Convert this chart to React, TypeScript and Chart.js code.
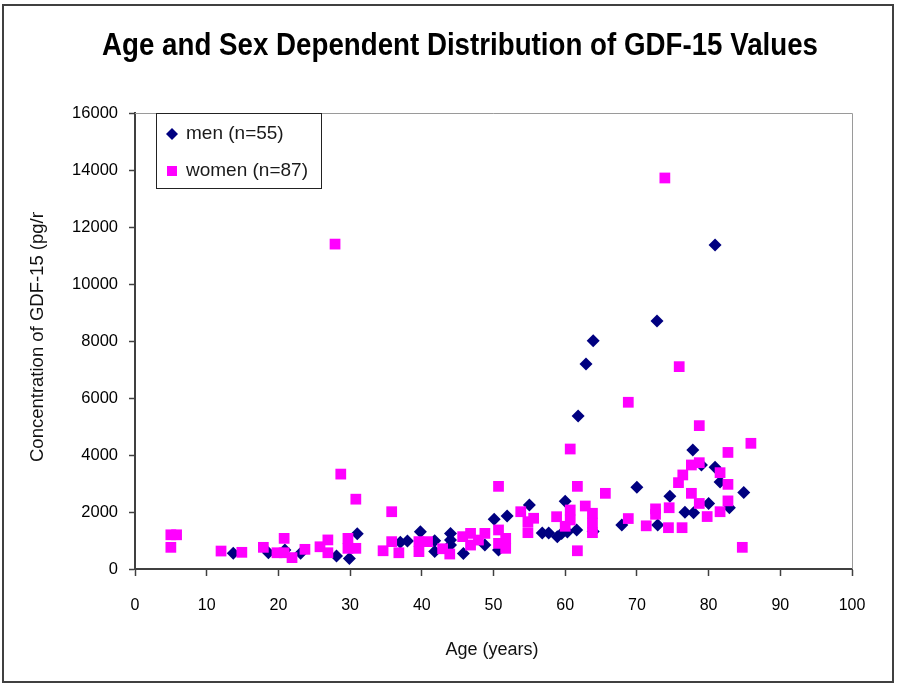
import React, { useEffect, useRef } from "react";
import { Chart, registerables } from "chart.js";

Chart.register(...registerables);

const TITLE = "Age and Sex Dependent Distribution of GDF-15 Values";
const X_TITLE = "Age (years)";
const Y_TITLE = "Concentration of GDF-15 (pg/ml)";
const LEGEND_LABELS = ["men (n=55)", "women (n=87)"];
const X_MIN = 0;
const X_MAX = 100;
const X_STEP = 10;
const Y_MIN = 0;
const Y_MAX = 16000;
const Y_STEP = 2000;

const MEN_AGE = [
  13.7, 18.6, 20.9, 23.1, 28.1, 29.9, 31, 37, 38, 39.8, 41.8, 41.8, 44, 44, 44, 45.8,
  48.8, 50.7, 50.1, 51.9, 55, 56.8, 57.7, 58.9, 60, 59.5, 60.3, 61.6, 63.9, 61.8, 62.9,
  63.9, 67.9, 70, 72.8, 72.9, 74.6, 76.7, 77.9, 77.8, 79, 80, 80.9, 80.9, 81.6, 82.9, 84.9,
];
const MEN_GDF = [
  550, 570, 670, 550, 460, 370, 1240, 935, 980, 1310, 990, 610, 1250, 1015, 840, 540,
  840, 670, 1745, 1860, 2245, 1260, 1260, 1135, 2380, 1250, 1300, 1370, 1320, 5370, 7190,
  8010, 1545, 2865, 8700, 1545, 2550, 1990, 1975, 4175, 3650, 2300, 3570, 11370, 3050, 2150, 2680,
];

const WOMEN_AGE = [
  5, 5.8, 5, 12, 14.9, 17.9, 20.8, 19.8, 20.8, 21.9, 23.7, 25.8, 26.9, 26.9, 27.9, 28.7,
  29.7, 29.7, 30.8, 30.8, 34.6, 35.8, 35.8, 36.8, 39.6, 39.6, 40.8, 42.9, 43.9, 45.7,
  46.8, 46.8, 47.9, 48.8, 50.7, 50.7, 50.7, 51.7, 51.7, 53.8, 54.8, 54.8, 55.6, 58.8,
  60.7, 60.7, 60, 60.7, 61.7, 61.7, 62.8, 63.8, 63.8, 63.8, 65.6, 68.8, 68.8, 71.3,
  72.6, 72.6, 73.9, 74.5, 74.4, 75.8, 75.9, 76.4, 76.3, 77.6, 77.6, 78.7, 78.7, 78.7,
  79.8, 81.6, 81.6, 82.7, 82.7, 82.7, 84.7, 85.9,
];
const WOMEN_GDF = [
  1200, 1200, 760, 630, 585, 760, 1075, 570, 570, 400, 690, 780, 1020, 570, 11400, 3330,
  1075, 725, 725, 2450, 640, 960, 2010, 570, 960, 610, 960, 710, 525, 1135,
  1250, 840, 1015, 1250, 1370, 900, 2900, 1075, 725, 2010, 1660, 1275, 1780, 1835,
  2070, 1720, 1500, 4210, 2900, 640, 2210, 1955, 1610, 1275, 2655, 1770, 5850, 1515,
  2110, 1920, 13720, 2150, 1450, 3030, 7100, 3300, 1450, 3650, 2655, 3730, 2300, 5030,
  1840, 3380, 2010, 4090, 2970, 2390, 760, 4410,
];

const MEN_COLOR = "#000080";
const WOMEN_COLOR = "#FF00FF";
const FONT = "'Liberation Sans', Arial, sans-serif";

const toPoints = (xs: number[], ys: number[]) => xs.map((x, i) => ({ x, y: ys[i] }));

const decorPlugin = {
  id: "decor",
  beforeDraw(chart: any) {
    const ctx = chart.ctx;
    ctx.save();
    ctx.fillStyle = "#ffffff";
    ctx.fillRect(0, 0, chart.width, chart.height);
    ctx.restore();
  },
  afterDraw(chart: any) {
    const ctx = chart.ctx;
    const area = chart.chartArea;
    ctx.save();
    // outer frame
    ctx.strokeStyle = "#404040";
    ctx.lineWidth = 2;
    ctx.strokeRect(3, 5, chart.width - 8, chart.height - 9);

    // plot area top/right border
    ctx.strokeStyle = "#9a9a9a";
    ctx.lineWidth = 1;
    ctx.beginPath();
    ctx.moveTo(area.left, area.top + 0.5);
    ctx.lineTo(area.right + 0.5, area.top + 0.5);
    ctx.lineTo(area.right + 0.5, area.bottom);
    ctx.stroke();

    // title
    ctx.fillStyle = "#000";
    ctx.font = `bold 31px ${FONT}`;
    const w = ctx.measureText(TITLE).width;
    const sx = 716 / w;
    ctx.save();
    ctx.translate(460, 55);
    ctx.scale(sx, 1);
    ctx.textAlign = "center";
    ctx.textBaseline = "alphabetic";
    ctx.fillText(TITLE, 0, 0);
    ctx.restore();

    // x title
    ctx.fillStyle = "#111";
    ctx.font = `18px ${FONT}`;
    ctx.textAlign = "center";
    ctx.textBaseline = "middle";
    ctx.fillText(X_TITLE, 492, 650);

    // y title (clipped as in the original)
    ctx.save();
    ctx.beginPath();
    ctx.rect(0, 212, 90, 300);
    ctx.clip();
    ctx.translate(38, 462);
    ctx.rotate(-Math.PI / 2);
    ctx.textAlign = "left";
    ctx.textBaseline = "middle";
    ctx.font = `18.5px ${FONT}`;
    ctx.fillText(Y_TITLE, 0, 0);
    ctx.restore();

    // legend
    const lx = 156.5, ly = area.top + 0.5, lw = 165, lh = 75;
    ctx.fillStyle = "#fff";
    ctx.fillRect(lx, ly, lw, lh);
    ctx.strokeStyle = "#222";
    ctx.lineWidth = 1;
    ctx.strokeRect(lx, ly, lw, lh);
    // diamond
    ctx.fillStyle = MEN_COLOR;
    ctx.beginPath();
    ctx.moveTo(172, 128);
    ctx.lineTo(178, 134);
    ctx.lineTo(172, 140);
    ctx.lineTo(166, 134);
    ctx.closePath();
    ctx.fill();
    // square
    ctx.fillStyle = WOMEN_COLOR;
    ctx.fillRect(167, 166, 10, 10);
    ctx.fillStyle = "#1a1a1a";
    ctx.font = `19px ${FONT}`;
    ctx.textAlign = "left";
    ctx.textBaseline = "middle";
    ctx.fillText(LEGEND_LABELS[0], 186, 134);
    ctx.fillText(LEGEND_LABELS[1], 186, 171);
    ctx.restore();
  },
};

export default function App() {
  const canvasRef = useRef<HTMLCanvasElement | null>(null);

  useEffect(() => {
    const canvas = canvasRef.current;
    if (!canvas) return;
    const chart = new Chart(canvas, {
      type: "scatter",
      data: {
        datasets: [
          {
            label: LEGEND_LABELS[1],
            data: toPoints(WOMEN_AGE, WOMEN_GDF),
            pointStyle: "rect",
            pointRadius: 7.6,
            backgroundColor: WOMEN_COLOR,
            borderColor: WOMEN_COLOR,
            borderWidth: 0,
            order: 0,
          },
          {
            label: LEGEND_LABELS[0],
            data: toPoints(MEN_AGE, MEN_GDF),
            pointStyle: "rectRot",
            pointRadius: 6.5,
            backgroundColor: MEN_COLOR,
            borderColor: MEN_COLOR,
            borderWidth: 0,
            order: 1,
          },
        ],
      },
      options: {
        responsive: false,
        animation: false,
        devicePixelRatio: 1,
        layout: { padding: { left: 0, top: 113, right: 46, bottom: 0 } },
        plugins: {
          legend: { display: false },
          tooltip: { enabled: false },
          title: { display: false },
        },
        scales: {
          x: {
            type: "linear",
            min: X_MIN,
            max: X_MAX,
            afterFit: (s: any) => {
              s.height = 117;
            },
            ticks: {
              stepSize: X_STEP,
              color: "#000",
              font: { family: FONT, size: 16 },
              padding: 20,
              maxRotation: 0,
              autoSkip: false,
              callback: (v: any) => String(v),
            },
            grid: {
              display: true,
              drawOnChartArea: false,
              drawTicks: true,
              tickLength: 7,
              tickColor: "#404040",
              tickWidth: 1.5,
            },
            border: { display: true, color: "#404040", width: 2 },
          },
          y: {
            type: "linear",
            min: Y_MIN,
            max: Y_MAX,
            afterFit: (s: any) => {
              s.width = 135;
            },
            ticks: {
              stepSize: Y_STEP,
              color: "#000",
              font: { family: FONT, size: 16.5 },
              padding: 11,
              autoSkip: false,
              callback: (v: any) => String(v),
            },
            grid: {
              display: true,
              drawOnChartArea: false,
              drawTicks: true,
              tickLength: 6,
              tickColor: "#404040",
              tickWidth: 1.5,
            },
            border: { display: true, color: "#404040", width: 2 },
          },
        },
      },
      plugins: [decorPlugin],
    } as any);
    return () => chart.destroy();
  }, []);

  return (
    <div style={{ position: "absolute", left: 0, top: 0, width: 898, height: 686, background: "#fff" }}>
      <canvas ref={canvasRef} width={898} height={686} style={{ display: "block" }} />
    </div>
  );
}
